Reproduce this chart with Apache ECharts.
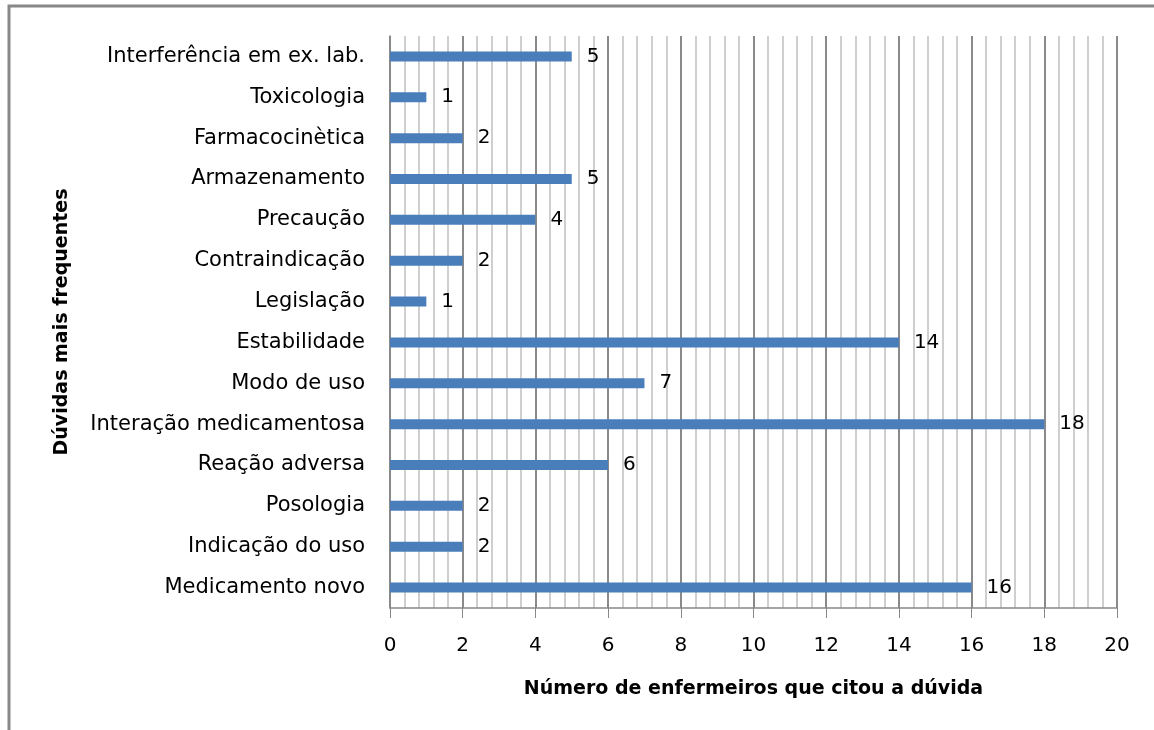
<!DOCTYPE html>
<html>
<head>
<meta charset="utf-8">
<script src="https://cdn.jsdelivr.net/npm/echarts@6/dist/echarts.min.js"></script>
<style>
  html, body { margin: 0; padding: 0; background: #fff; }
  #chart { width: 1154px; height: 730px; }
</style>
</head>
<body>
<div id="chart"></div>
<script>
// categories listed bottom to top (as the y axis draws them)
const categories = [
  'Medicamento novo',
  'Indicação do uso',
  'Posologia',
  'Reação adversa',
  'Interação medicamentosa',
  'Modo de uso',
  'Estabilidade',
  'Legislação',
  'Contraindicação',
  'Precaução',
  'Armazenamento',
  'Farmacocinètica',
  'Toxicologia',
  'Interferência em ex. lab.'
]
const counts = [16, 2, 2, 6, 18, 7, 14, 1, 2, 4, 5, 2, 1, 5]
const xTicks = [0, 2, 4, 6, 8, 10, 12, 14, 16, 18, 20]

const font = '"DejaVu Sans", "Open Sans", sans-serif'

const chart = echarts.init(document.getElementById('chart'))

const option = {
  backgroundColor: '#fff',
  animation: false,
  graphic: [
    {
      type: 'polyline',
      shape: { points: [[9, 740], [9, 6], [1160, 6]] },
      style: { stroke: '#888', lineWidth: 3, fill: null }
    }
  ],
  grid: { left: 390, right: 37, top: 36, bottom: 122 },
  xAxis: {
    type: 'value',
    min: xTicks[0],
    max: xTicks[xTicks.length - 1],
    interval: 2,
    name: 'Número de enfermeiros que citou a dúvida',
    nameLocation: 'middle',
    nameGap: 72,
    nameTextStyle: { fontFamily: font, fontSize: 19, fontWeight: 'bold', color: '#000' },
    axisLine: { show: true, lineStyle: { color: '#888', width: 1.5 } },
    axisTick: { show: true, length: 10, lineStyle: { color: '#888' } },
    axisLabel: { fontFamily: font, fontSize: 20, color: '#000', margin: 28 },
    splitLine: { show: true, lineStyle: { color: '#8a8a8a', width: 2 } },
    minorTick: { show: false, splitNumber: 5 },
    minorSplitLine: { show: true, lineStyle: { color: '#c0c0c0', width: 1.5 } }
  },
  yAxis: {
    type: 'category',
    data: categories,
    name: 'Dúvidas mais frequentes',
    nameLocation: 'middle',
    nameGap: 318,
    nameRotate: 90,
    nameTextStyle: { fontFamily: font, fontSize: 19, fontWeight: 'bold', color: '#000' },
    axisLine: { show: true, lineStyle: { color: '#888', width: 1.5 } },
    axisTick: { show: false },
    axisLabel: { fontFamily: font, fontSize: 21, color: '#000', margin: 25 },
    splitLine: { show: false }
  },
  series: [
    {
      type: 'bar',
      data: counts,
      barWidth: 10,
      itemStyle: { color: '#4A7EBB' },
      label: {
        show: true,
        position: 'right',
        distance: 15,
        fontFamily: font,
        fontSize: 20,
        color: '#000'
      }
    }
  ]
}

chart.setOption(option)
</script>
</body>
</html>
